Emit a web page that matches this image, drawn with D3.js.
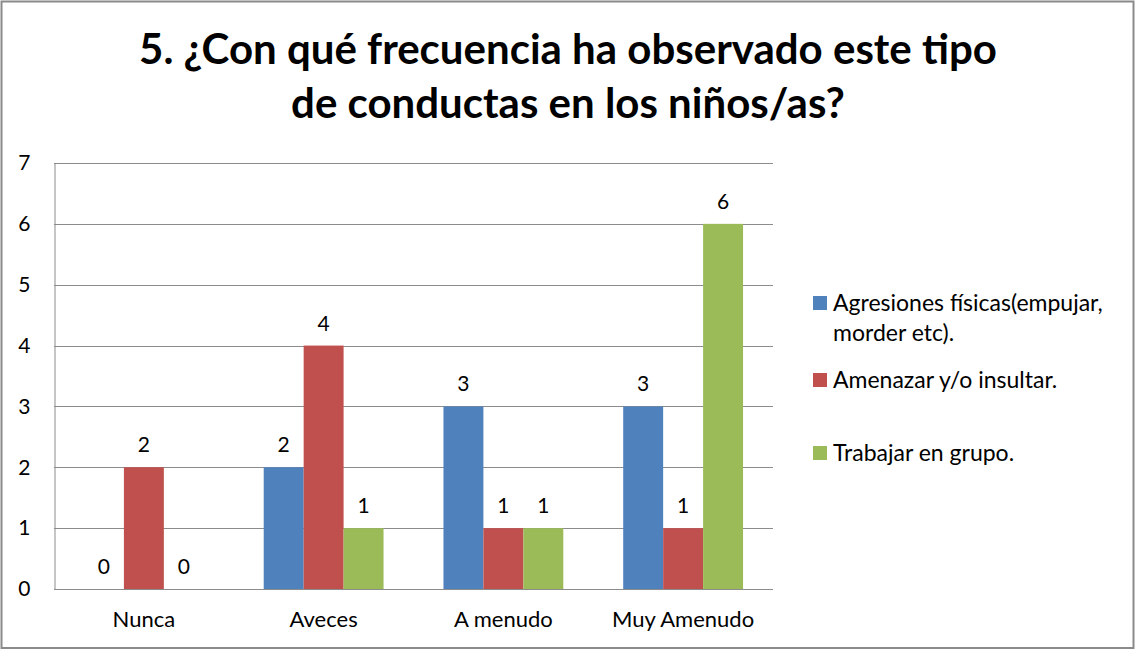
<!DOCTYPE html>
<html>
<head>
<meta charset="utf-8">
<script src="https://cdn.jsdelivr.net/npm/d3@7"></script>
<style>
  body { margin: 0; background: #fff; }
  svg { display: block; }
  text { font-family: Lato, "Open Sans", sans-serif; }
</style>
</head>
<body>
<svg id="chart" width="1136" height="650"></svg>
<script>
var categories = ["Nunca", "Aveces", "A menudo", "Muy Amenudo"];
var seriesNames = ["Agresiones físicas(empujar, morder etc).", "Amenazar y/o insultar.", "Trabajar en grupo."];
var legendLines = [["Agresiones físicas(empujar,", "morder etc)."], ["Amenazar y/o insultar."], ["Trabajar en grupo."]];
var agresiones = [0, 2, 3, 3];
var amenazar = [2, 4, 1, 1];
var trabajar = [0, 1, 1, 6];
var yTicks = [0, 1, 2, 3, 4, 5, 6, 7];
var colors = ["#4F81BD", "#C0504D", "#9BBB59"];
var titleLines = ["5. ¿Con qué frecuencia ha observado este tipo", "de conductas en los niños/as?"];

var values = [agresiones, amenazar, trabajar];

var svg = d3.select('#chart');
var width = +svg.attr('width');
var height = +svg.attr('height');

// outer frame
svg.append('rect')
  .attr('x', 1.5).attr('y', 1.5)
  .attr('width', width - 4).attr('height', height - 3.5)
  .attr('fill', '#fff')
  .attr('stroke', '#8a8a8a')
  .attr('stroke-width', 2);

// title
svg.append('text')
  .attr('text-anchor', 'middle')
  .attr('font-size', 42)
  .attr('font-weight', 'bold')
  .attr('fill', '#000')
  .selectAll('tspan')
  .data(titleLines)
  .enter().append('tspan')
  .attr('x', 568)
  .attr('y', function(d, i) { return 64 + i * 54; })
  .text(function(d) { return d; });

var plot = { left: 54, right: 773, top: 163, bottom: 589 };

var x0 = d3.scaleBand()
  .domain(categories)
  .range([plot.left, plot.right]);

var x1 = d3.scaleBand()
  .domain(d3.range(seriesNames.length))
  .range([0, x0.bandwidth()])
  .paddingOuter(0.75)
  .paddingInner(0);

var y = d3.scaleLinear()
  .domain([0, 7])
  .range([plot.bottom, plot.top]);

// gridlines
svg.append('g')
  .selectAll('line')
  .data(yTicks)
  .enter().append('line')
  .attr('x1', plot.left).attr('x2', plot.right)
  .attr('y1', function(d) { return Math.round(y(d)) + 0.5; })
  .attr('y2', function(d) { return Math.round(y(d)) + 0.5; })
  .attr('stroke', '#8c8c8c')
  .attr('stroke-width', 1);

// y axis
var yAxis = svg.append('g')
  .attr('transform', 'translate(' + (plot.left + 0.5) + ',0)')
  .call(d3.axisLeft(y).tickValues(yTicks).tickSize(0).tickPadding(24).tickFormat(d3.format('d')));
yAxis.select('.domain').attr('stroke', '#8c8c8c');
yAxis.selectAll('text')
  .attr('font-size', 21)
  .attr('fill', '#000')
  .style('font-family', 'Lato, sans-serif');

// bars
var groups = svg.append('g')
  .selectAll('g')
  .data(categories)
  .enter().append('g')
  .attr('transform', function(d) { return 'translate(' + x0(d) + ',0)'; });

groups.selectAll('rect')
  .data(function(d, ci) { return values.map(function(s, si) { return { si: si, v: s[ci] }; }); })
  .enter().append('rect')
  .attr('x', function(d) { return x1(d.si); })
  .attr('width', x1.bandwidth())
  .attr('y', function(d) { return y(d.v); })
  .attr('height', function(d) { return y(0) - y(d.v); })
  .attr('fill', function(d) { return colors[d.si]; });

groups.selectAll('text')
  .data(function(d, ci) { return values.map(function(s, si) { return { si: si, v: s[ci] }; }); })
  .enter().append('text')
  .attr('x', function(d) { return x1(d.si) + x1.bandwidth() / 2; })
  .attr('y', function(d) { return y(d.v) - 15; })
  .attr('text-anchor', 'middle')
  .attr('font-size', 21)
  .attr('fill', '#000')
  .text(function(d) { return d.v; });

// x axis line
svg.append('line')
  .attr('x1', plot.left).attr('x2', plot.right)
  .attr('y1', plot.bottom + 0.5).attr('y2', plot.bottom + 0.5)
  .attr('stroke', '#8c8c8c');

// category labels
svg.append('g')
  .selectAll('text')
  .data(categories)
  .enter().append('text')
  .attr('x', function(d) { return x0(d) + x0.bandwidth() / 2; })
  .attr('y', 627)
  .attr('text-anchor', 'middle')
  .attr('font-size', 22)
  .attr('fill', '#000')
  .text(function(d) { return d; });

// legend
var legendY = [303, 380, 453];
var legend = svg.append('g')
  .selectAll('g')
  .data(seriesNames)
  .enter().append('g')
  .attr('transform', function(d, i) { return 'translate(813,' + legendY[i] + ')'; });

legend.append('rect')
  .attr('x', 0).attr('y', -7)
  .attr('width', 14).attr('height', 14)
  .attr('fill', function(d, i) { return colors[i]; });

legend.append('text')
  .attr('font-size', 23)
  .attr('fill', '#000')
  .selectAll('tspan')
  .data(function(d, i) { return legendLines[i]; })
  .enter().append('tspan')
  .attr('x', 20)
  .attr('y', function(d, j) { return 8 + j * 30; })
  .text(function(d) { return d; });
</script>
</body>
</html>
